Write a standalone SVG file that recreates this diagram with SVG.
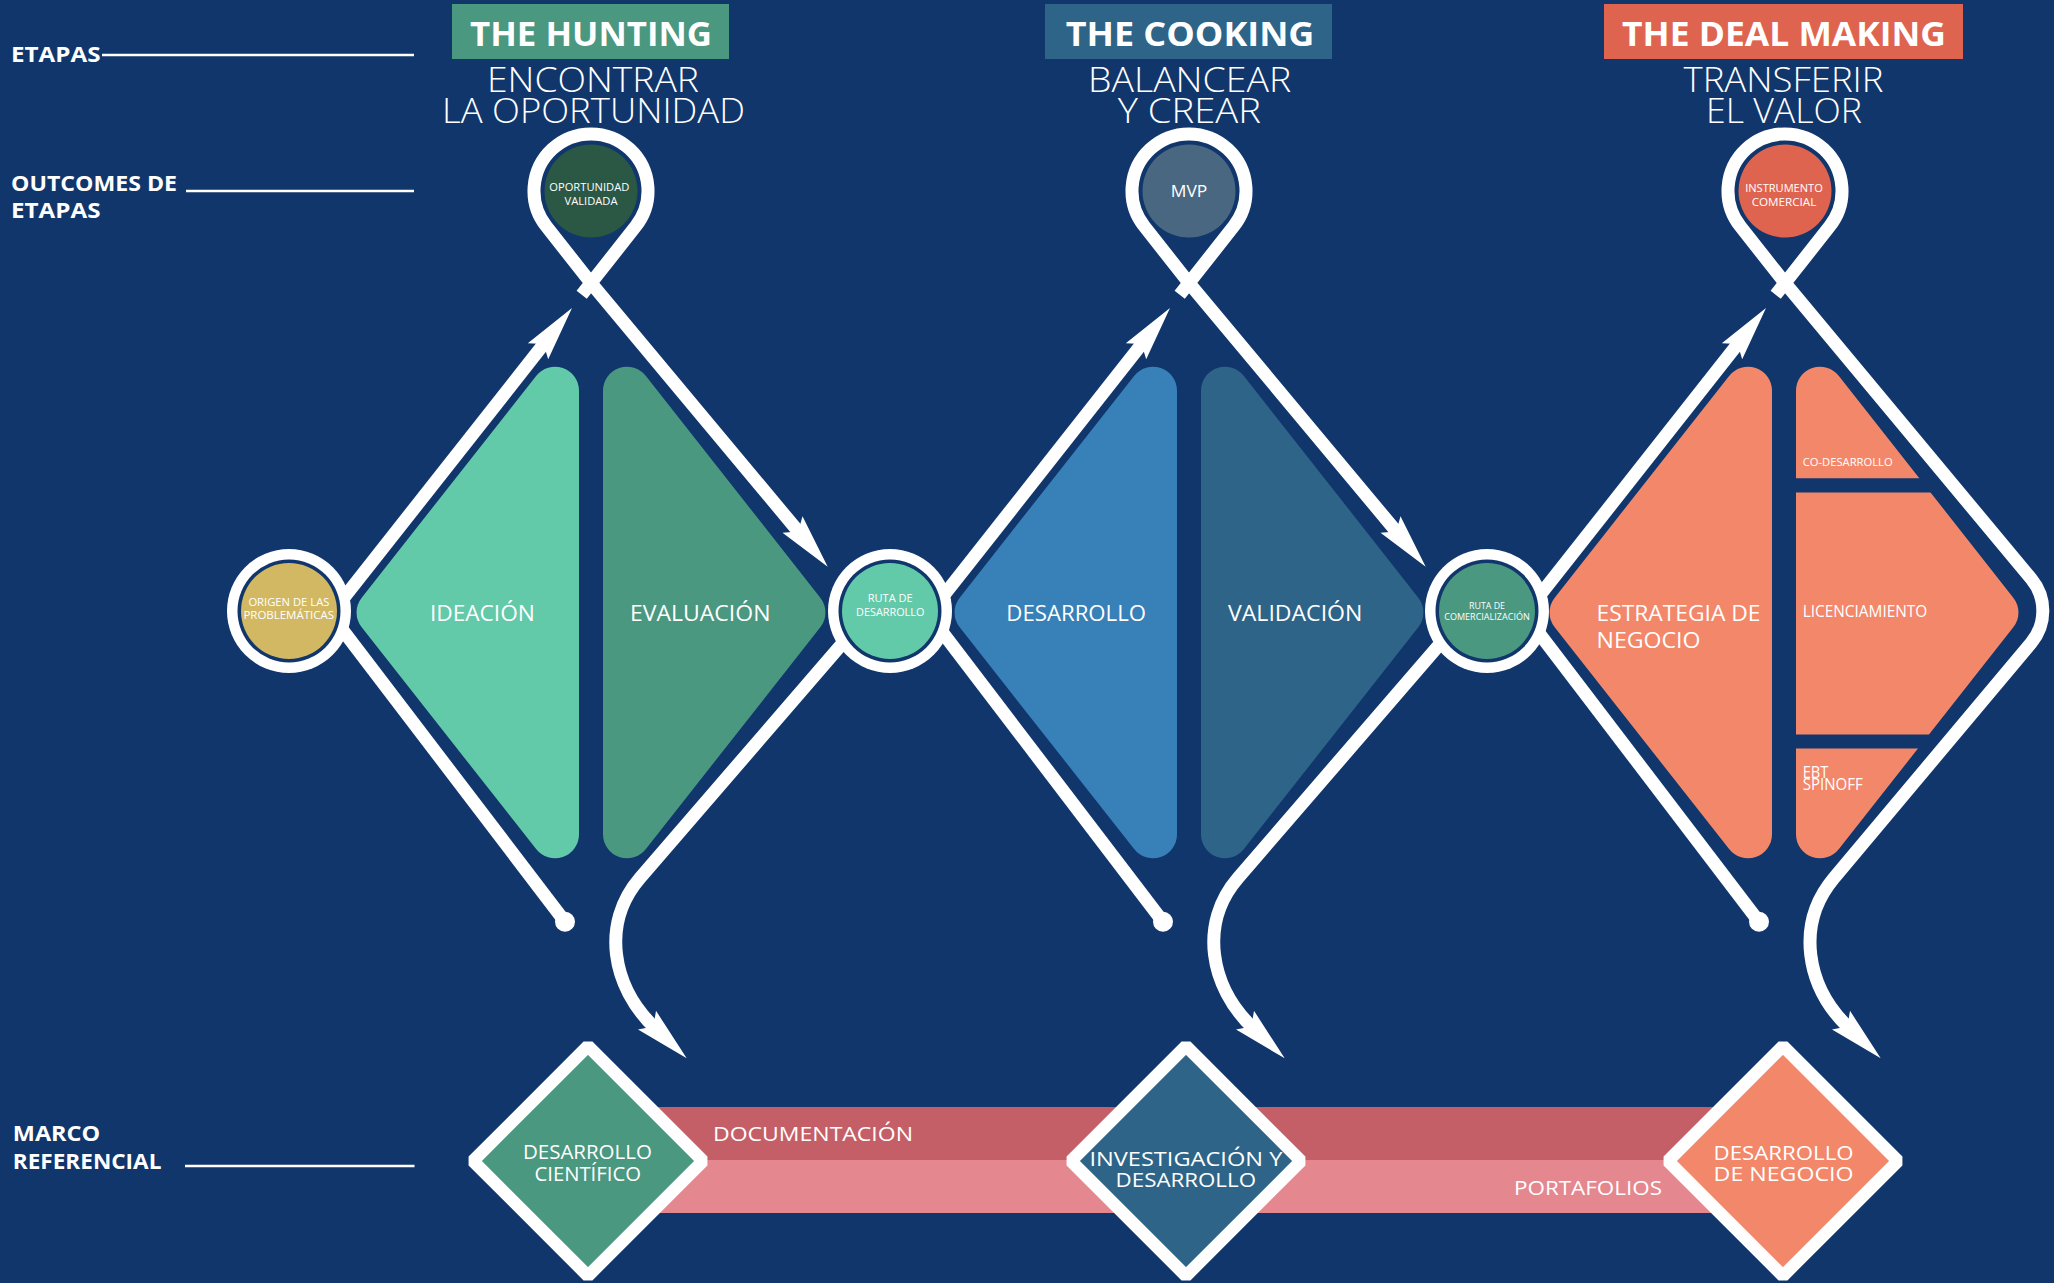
<svg xmlns="http://www.w3.org/2000/svg" width="2054" height="1283" viewBox="0 0 2054 1283">
<style>
.t{font-family:"Open Sans","Liberation Sans",sans-serif;fill:#fff}
.b{font-weight:700}
.l{font-weight:300}
.r{font-weight:400}
.ln{fill:none;stroke:#fff;stroke-width:13;stroke-linejoin:round}
.hd{fill:#fff;stroke:none}
.rule{stroke:#fff;stroke-width:2.5}
.ring{fill:#fff}
.gap{fill:#10366C}
.dia{stroke:#fff;stroke-width:12.5;stroke-linejoin:bevel}
</style>
<defs>
<path id="halfL" d="M -229.3,-14.85 L -54.9,-236.5 A 24 24 0 0 1 -12,-221.7 L -12,221.7 A 24 24 0 0 1 -54.9,236.5 L -229.3,14.85 A 24 24 0 0 1 -229.3,-14.85 Z"/>
<clipPath id="clipCo" clipPathUnits="userSpaceOnUse"><rect x="1780" y="300" width="300" height="178.3"/></clipPath>
<clipPath id="clipLic" clipPathUnits="userSpaceOnUse"><rect x="1780" y="492.6" width="300" height="241.8"/></clipPath>
<clipPath id="clipEbt" clipPathUnits="userSpaceOnUse"><rect x="1780" y="748.4" width="300" height="170"/></clipPath>
</defs>
<rect width="2054" height="1283" fill="#10366C"/>

<g id="side-labels">
<text class="t b" x="11" y="62" font-size="21" textLength="89.5" lengthAdjust="spacingAndGlyphs">ETAPAS</text>
<line class="rule" x1="102" y1="55" x2="414" y2="55"/>
<text class="t b" x="11" y="191" font-size="21" textLength="166" lengthAdjust="spacingAndGlyphs">OUTCOMES DE</text>
<text class="t b" x="11" y="218.3" font-size="21" textLength="89.5" lengthAdjust="spacingAndGlyphs">ETAPAS</text>
<line class="rule" x1="186" y1="191" x2="414" y2="191"/>
<text class="t b" x="12.8" y="1141" font-size="21" textLength="87.4" lengthAdjust="spacingAndGlyphs">MARCO</text>
<text class="t b" x="12.8" y="1169.3" font-size="21" textLength="148.6" lengthAdjust="spacingAndGlyphs">REFERENCIAL</text>
<line class="rule" x1="185" y1="1166" x2="414.5" y2="1166"/>
</g>

<g id="header-hunting">
<rect x="452" y="4" width="277" height="55" fill="#4A9880"/>
<text class="t b" x="591" y="46" font-size="34" text-anchor="middle" textLength="242" lengthAdjust="spacingAndGlyphs">THE HUNTING</text>
<text class="t l" x="593" y="92" font-size="34" text-anchor="middle" textLength="212" lengthAdjust="spacingAndGlyphs">ENCONTRAR</text>
<text class="t l" x="593.5" y="123" font-size="34" text-anchor="middle" textLength="303" lengthAdjust="spacingAndGlyphs">LA OPORTUNIDAD</text>
</g>
<g id="header-cooking">
<rect x="1045" y="4" width="287" height="55" fill="#2D6488"/>
<text class="t b" x="1190" y="46" font-size="34" text-anchor="middle" textLength="248.7" lengthAdjust="spacingAndGlyphs">THE COOKING</text>
<text class="t l" x="1189.6" y="92" font-size="34" text-anchor="middle" textLength="203" lengthAdjust="spacingAndGlyphs">BALANCEAR</text>
<text class="t l" x="1189.3" y="123" font-size="34" text-anchor="middle" textLength="143" lengthAdjust="spacingAndGlyphs">Y CREAR</text>
</g>
<g id="header-dealmaking">
<rect x="1604" y="4" width="359" height="55" fill="#DF6450"/>
<text class="t b" x="1784" y="46" font-size="34" text-anchor="middle" textLength="324" lengthAdjust="spacingAndGlyphs">THE DEAL MAKING</text>
<text class="t l" x="1783.5" y="92" font-size="34" text-anchor="middle" textLength="200" lengthAdjust="spacingAndGlyphs">TRANSFERIR</text>
<text class="t l" x="1784" y="123" font-size="34" text-anchor="middle" textLength="156" lengthAdjust="spacingAndGlyphs">EL VALOR</text>
</g>

<g id="ideacion">
<use href="#halfL" transform="translate(591,612.5)" fill="#62C9A9"/>
<text class="t r" x="482.4" y="621" font-size="22" text-anchor="middle" textLength="105" lengthAdjust="spacingAndGlyphs">IDEACIÓN</text>
</g>
<g id="evaluacion">
<use href="#halfL" transform="translate(591,612.5) scale(-1,1)" fill="#4A9880"/>
<text class="t r" x="700.2" y="621" font-size="22" text-anchor="middle" textLength="140.6" lengthAdjust="spacingAndGlyphs">EVALUACIÓN</text>
</g>
<g id="desarrollo">
<use href="#halfL" transform="translate(1189,612.5)" fill="#3880B8"/>
<text class="t r" x="1076.2" y="621" font-size="22" text-anchor="middle" textLength="139.7" lengthAdjust="spacingAndGlyphs">DESARROLLO</text>
</g>
<g id="validacion">
<use href="#halfL" transform="translate(1189,612.5) scale(-1,1)" fill="#2D6488"/>
<text class="t r" x="1295.2" y="621" font-size="22" text-anchor="middle" textLength="134.3" lengthAdjust="spacingAndGlyphs">VALIDACIÓN</text>
</g>
<g id="estrategia">
<use href="#halfL" transform="translate(1784,612.5)" fill="#F2876A"/>
<text class="t r" x="1596.5" y="621" font-size="22" textLength="164" lengthAdjust="spacingAndGlyphs">ESTRATEGIA DE</text>
<text class="t r" x="1596.5" y="648" font-size="22" textLength="104" lengthAdjust="spacingAndGlyphs">NEGOCIO</text>
</g>
<g id="co-desarrollo">
<g clip-path="url(#clipCo)"><use href="#halfL" transform="translate(1784,612.5) scale(-1,1)" fill="#F2876A"/></g>
<text class="t r" x="1802.7" y="465.7" font-size="10" textLength="90" lengthAdjust="spacingAndGlyphs">CO-DESARROLLO</text>
</g>
<g id="licenciamiento">
<g clip-path="url(#clipLic)"><use href="#halfL" transform="translate(1784,612.5) scale(-1,1)" fill="#F2876A"/></g>
<text class="t r" x="1802.7" y="617.3" font-size="16" textLength="124.6" lengthAdjust="spacingAndGlyphs">LICENCIAMIENTO</text>
</g>
<g id="ebt-spinoff">
<g clip-path="url(#clipEbt)"><use href="#halfL" transform="translate(1784,612.5) scale(-1,1)" fill="#F2876A"/></g>
<text class="t r" x="1802.7" y="778.3" font-size="16" textLength="25.7" lengthAdjust="spacingAndGlyphs">EBT</text>
<text class="t r" x="1802.7" y="789.5" font-size="16" textLength="60" lengthAdjust="spacingAndGlyphs">SPINOFF</text>
</g>

<g id="bands">
<rect x="600" y="1107" width="1180" height="53" fill="#C55F67"/>
<rect x="600" y="1160" width="1180" height="53" fill="#E5878F"/>
<text class="t r" x="713" y="1141" font-size="20" textLength="200" lengthAdjust="spacingAndGlyphs">DOCUMENTACIÓN</text>
<text class="t r" x="1514" y="1195" font-size="20" textLength="148" lengthAdjust="spacingAndGlyphs">PORTAFOLIOS</text>
</g>

<g id="connectors">
<g id="stage1-connectors">
<path class="ln" d="M 335,609 L 547.3,339.6"/>
<polygon class="hd" points="572,308 548.2,359.2 543.5,344.1 527.8,343.2"/>
<path class="ln" d="M 581.7,294.8 L 635.7,226.3 A 57 57 0 1 0 546.3,226.3 L 591,283 L 802.1,536"/>
<polygon class="hd" points="827.7,566.7 802.5,516.2 798.2,531.4 782.5,532.8"/>
<path class="ln" d="M 335,620 L 565,921.7"/>
<circle class="hd" cx="565" cy="921.7" r="10"/>
<path class="ln" d="M 848,637 L 640,878 C 600.8,923.4 611.6,986.5 655,1028"/>
<polygon class="hd" points="686.7,1058.3 638,1029.6 653.4,1026.5 656,1010.8"/>
</g>
<g id="stage2-connectors" transform="translate(598,0)">
<path class="ln" d="M 335,609 L 547.3,339.6"/>
<polygon class="hd" points="572,308 548.2,359.2 543.5,344.1 527.8,343.2"/>
<path class="ln" d="M 581.7,294.8 L 635.7,226.3 A 57 57 0 1 0 546.3,226.3 L 591,283 L 802.1,536"/>
<polygon class="hd" points="827.7,566.7 802.5,516.2 798.2,531.4 782.5,532.8"/>
<path class="ln" d="M 335,620 L 565,921.7"/>
<circle class="hd" cx="565" cy="921.7" r="10"/>
<path class="ln" d="M 848,637 L 640,878 C 600.8,923.4 611.6,986.5 655,1028"/>
<polygon class="hd" points="686.7,1058.3 638,1029.6 653.4,1026.5 656,1010.8"/>
</g>
<g id="stage3-connectors" transform="translate(1194,0)">
<path class="ln" d="M 335,609 L 547.3,339.6"/>
<polygon class="hd" points="572,308 548.2,359.2 543.5,344.1 527.8,343.2"/>
<path class="ln" d="M 581.7,294.8 L 635.7,226.3 A 57 57 0 1 0 546.3,226.3 L 591,283 L 837.3,578.9 A 50 50 0 0 1 837.1,643 L 640,878 C 601.4,924 611.6,986.5 655,1028"/>
<path class="ln" d="M 335,620 L 565,921.7"/>
<circle class="hd" cx="565" cy="921.7" r="10"/>
<polygon class="hd" points="686.7,1058.3 638,1029.6 653.4,1026.5 656,1010.8"/>
</g>
</g>

<g id="origen">
<circle class="ring" cx="289" cy="611" r="62"/>
<circle class="gap" cx="289" cy="611" r="51.5"/>
<circle cx="289" cy="611" r="48" fill="#D2B862"/>
<text class="t r" x="288.9" y="605.7" font-size="10" text-anchor="middle" textLength="81" lengthAdjust="spacingAndGlyphs">ORIGEN DE LAS</text>
<text class="t r" x="288.7" y="619.3" font-size="10" text-anchor="middle" textLength="90.6" lengthAdjust="spacingAndGlyphs">PROBLEMÁTICAS</text>
</g>
<g id="ruta-desarrollo">
<circle class="ring" cx="890" cy="611" r="62"/>
<circle class="gap" cx="890" cy="611" r="51.5"/>
<circle cx="890" cy="611" r="48" fill="#62C9A9"/>
<text class="t r" x="890.2" y="602.3" font-size="11.5" text-anchor="middle" textLength="45" lengthAdjust="spacingAndGlyphs">RUTA DE</text>
<text class="t r" x="890.2" y="616" font-size="11.5" text-anchor="middle" textLength="68.3" lengthAdjust="spacingAndGlyphs">DESARROLLO</text>
</g>
<g id="ruta-comercializacion">
<circle class="ring" cx="1487" cy="611" r="62"/>
<circle class="gap" cx="1487" cy="611" r="51.5"/>
<circle cx="1487" cy="611" r="48" fill="#4A9880"/>
<text class="t r" x="1487" y="609.3" font-size="8.5" text-anchor="middle" textLength="36" lengthAdjust="spacingAndGlyphs">RUTA DE</text>
<text class="t r" x="1487" y="620" font-size="8.5" text-anchor="middle" textLength="85.6" lengthAdjust="spacingAndGlyphs">COMERCIALIZACIÓN</text>
</g>

<g id="oportunidad-validada">
<circle cx="591" cy="191" r="46.5" fill="#2B5745"/>
<text class="t r" x="589.3" y="191" font-size="10" text-anchor="middle" textLength="80" lengthAdjust="spacingAndGlyphs">OPORTUNIDAD</text>
<text class="t r" x="591" y="205" font-size="10" text-anchor="middle" textLength="53" lengthAdjust="spacingAndGlyphs">VALIDADA</text>
</g>
<g id="mvp">
<circle cx="1189" cy="191" r="46.5" fill="#4A6782"/>
<text class="t r" x="1189" y="196.7" font-size="17" text-anchor="middle" textLength="36.6" lengthAdjust="spacingAndGlyphs">MVP</text>
</g>
<g id="instrumento-comercial">
<circle cx="1785" cy="191" r="46.5" fill="#DF6450"/>
<text class="t r" x="1784" y="192.3" font-size="10" text-anchor="middle" textLength="77.7" lengthAdjust="spacingAndGlyphs">INSTRUMENTO</text>
<text class="t r" x="1784" y="205.7" font-size="10" text-anchor="middle" textLength="64.7" lengthAdjust="spacingAndGlyphs">COMERCIAL</text>
</g>

<g id="desarrollo-cientifico">
<polygon class="dia" points="588,1046 703,1161 588,1276 473,1161" fill="#4A9880"/>
<text class="t r" x="587.4" y="1159" font-size="20" text-anchor="middle" textLength="129" lengthAdjust="spacingAndGlyphs">DESARROLLO</text>
<text class="t r" x="587.7" y="1181" font-size="20" text-anchor="middle" textLength="106.5" lengthAdjust="spacingAndGlyphs">CIENTÍFICO</text>
</g>
<g id="investigacion-desarrollo">
<polygon class="dia" points="1186,1046 1301,1161 1186,1276 1071,1161" fill="#2D6488"/>
<text class="t r" x="1185.9" y="1165.7" font-size="20" text-anchor="middle" textLength="193" lengthAdjust="spacingAndGlyphs">INVESTIGACIÓN Y</text>
<text class="t r" x="1185.8" y="1186.7" font-size="20" text-anchor="middle" textLength="140.4" lengthAdjust="spacingAndGlyphs">DESARROLLO</text>
</g>
<g id="desarrollo-negocio">
<polygon class="dia" points="1783,1046 1898,1161 1783,1276 1668,1161" fill="#F2876A"/>
<text class="t r" x="1783.6" y="1160" font-size="20" text-anchor="middle" textLength="140" lengthAdjust="spacingAndGlyphs">DESARROLLO</text>
<text class="t r" x="1783.6" y="1181" font-size="20" text-anchor="middle" textLength="140" lengthAdjust="spacingAndGlyphs">DE NEGOCIO</text>
</g>
</svg>
